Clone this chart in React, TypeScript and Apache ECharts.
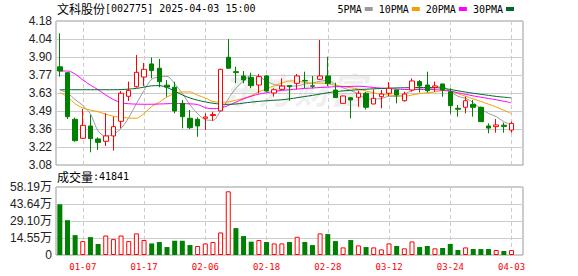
import { useEffect, useRef } from 'react';
import * as echarts from 'echarts';

const dates = [
  '01-02', '01-03', '01-06', '01-07', '01-08', '01-09', '01-10', '01-13', '01-14', '01-15',
  '01-16', '01-17', '01-20', '01-21', '01-22', '01-23', '01-24', '01-27', '02-05', '02-06',
  '02-07', '02-10', '02-11', '02-12', '02-13', '02-14', '02-17', '02-18', '02-19', '02-20',
  '02-21', '02-24', '02-25', '02-26', '02-27', '02-28', '03-03', '03-04', '03-05', '03-06',
  '03-07', '03-10', '03-11', '03-12', '03-13', '03-14', '03-17', '03-18', '03-19', '03-20',
  '03-21', '03-24', '03-25', '03-26', '03-27', '03-28', '03-31', '04-01', '04-02', '04-03',
];

const openP = [
  3.83, 3.785, 3.429, 3.284, 3.378, 3.279, 3.261, 3.302, 3.414, 3.605,
  3.678, 3.752, 3.852, 3.819, 3.69, 3.674, 3.551, 3.437, 3.429, 3.437,
  3.458, 3.493, 3.903, 3.793, 3.76, 3.75, 3.691, 3.76, 3.63, 3.658,
  3.686, 3.704, 3.726, 3.685, 3.735, 3.76, 3.653, 3.551, 3.594, 3.597,
  3.628, 3.546, 3.602, 3.628, 3.653, 3.571, 3.653, 3.717, 3.691, 3.673,
  3.699, 3.64, 3.513, 3.521, 3.543, 3.521, 3.378, 3.373, 3.384, 3.347,
];
const closeP = [
  3.798, 3.449, 3.266, 3.383, 3.281, 3.253, 3.302, 3.373, 3.628, 3.65,
  3.788, 3.811, 3.801, 3.716, 3.675, 3.493, 3.449, 3.365, 3.378, 3.447,
  3.465, 3.811, 3.819, 3.786, 3.73, 3.686, 3.755, 3.645, 3.655, 3.683,
  3.678, 3.76, 3.722, 3.682, 3.76, 3.704, 3.595, 3.607, 3.577, 3.628,
  3.521, 3.589, 3.622, 3.666, 3.615, 3.622, 3.722, 3.684, 3.648, 3.684,
  3.653, 3.533, 3.506, 3.571, 3.521, 3.411, 3.362, 3.386, 3.375, 3.398,
];
const lowP = [
  3.755, 3.431, 3.258, 3.279, 3.177, 3.195, 3.225, 3.19, 3.36, 3.569,
  3.671, 3.684, 3.742, 3.674, 3.602, 3.475, 3.36, 3.355, 3.296, 3.347,
  3.418, 3.49, 3.815, 3.704, 3.704, 3.666, 3.628, 3.64, 3.602, 3.653,
  3.57, 3.658, 3.666, 3.666, 3.729, 3.683, 3.593, 3.55, 3.437, 3.525,
  3.505, 3.545, 3.513, 3.607, 3.551, 3.564, 3.64, 3.633, 3.633, 3.64,
  3.602, 3.47, 3.449, 3.475, 3.449, 3.41, 3.322, 3.327, 3.327, 3.327,
];
const highP = [
  4.086, 3.79, 3.442, 3.508, 3.462, 3.291, 3.475, 3.449, 3.645, 3.717,
  3.92, 3.86, 3.902, 3.89, 3.729, 3.716, 3.577, 3.5, 3.444, 3.475,
  3.487, 3.815, 4.042, 3.831, 3.798, 3.785, 3.775, 3.767, 3.666, 3.742,
  3.69, 3.775, 3.793, 3.76, 4.035, 3.907, 3.709, 3.61, 3.6, 3.648,
  3.638, 3.658, 3.653, 3.714, 3.655, 3.64, 3.742, 3.729, 3.793, 3.717,
  3.7, 3.666, 3.538, 3.602, 3.577, 3.526, 3.398, 3.431, 3.404, 3.411,
];

const volumes = [
  434000, 298000, 170000, 119000, 153000, 94000, 167000, 136000, 167000, 119000,
  185000, 128000, 99000, 111000, 68000, 122000, 122000, 85000, 77000, 99000,
  111000, 193000, 545000, 230000, 162000, 114000, 128000, 111000, 99000, 99000,
  111000, 156000, 111000, 85000, 185000, 179000, 119000, 65000, 128000, 82000,
  68000, 65000, 48000, 99000, 77000, 57000, 116000, 68000, 77000, 57000,
  60000, 94000, 43000, 65000, 51000, 51000, 51000, 43000, 34000, 41841,
];

const ma5 = [
  3.653, 3.63, 3.58, 3.535, 3.47, 3.34, 3.3, 3.315, 3.36, 3.442,
  3.548, 3.65, 3.735, 3.753, 3.757, 3.7, 3.627, 3.54, 3.472, 3.426,
  3.421, 3.493, 3.584, 3.666, 3.722, 3.766, 3.755, 3.72, 3.694, 3.685,
  3.683, 3.684, 3.7, 3.705, 3.72, 3.726, 3.693, 3.67, 3.649, 3.622,
  3.586, 3.584, 3.587, 3.605, 3.603, 3.623, 3.649, 3.662, 3.658, 3.672,
  3.678, 3.64, 3.605, 3.589, 3.557, 3.508, 3.474, 3.45, 3.411, 3.386,
];
const ma10 = [
  3.635, 3.6, 3.548, 3.515, 3.5, 3.487, 3.468, 3.452, 3.445, 3.438,
  3.437, 3.474, 3.527, 3.56, 3.6, 3.624, 3.638, 3.638, 3.613, 3.592,
  3.565, 3.56, 3.562, 3.575, 3.59, 3.61, 3.64, 3.66, 3.685, 3.706,
  3.722, 3.72, 3.712, 3.705, 3.705, 3.702, 3.688, 3.68, 3.67, 3.66,
  3.645, 3.632, 3.62, 3.615, 3.608, 3.604, 3.615, 3.625, 3.632, 3.638,
  3.648, 3.643, 3.625, 3.605, 3.585, 3.565, 3.545, 3.523, 3.498, 3.472,
];
const ma20 = [
  3.798, 3.798, 3.775, 3.73, 3.69, 3.655, 3.615, 3.58, 3.555, 3.548,
  3.545, 3.544, 3.544, 3.546, 3.548, 3.55, 3.549, 3.547, 3.542, 3.518,
  3.51, 3.515, 3.535, 3.56, 3.585, 3.605, 3.622, 3.632, 3.642, 3.65,
  3.655, 3.66, 3.665, 3.668, 3.672, 3.675, 3.678, 3.68, 3.68, 3.682,
  3.678, 3.672, 3.667, 3.663, 3.66, 3.657, 3.656, 3.657, 3.658, 3.655,
  3.652, 3.645, 3.632, 3.62, 3.608, 3.598, 3.588, 3.578, 3.567, 3.555,
];
const ma30 = [
  3.655, 3.655, 3.655, 3.655, 3.655, 3.655, 3.655, 3.655, 3.656, 3.66,
  3.665, 3.675, 3.685, 3.686, 3.672, 3.645, 3.615, 3.592, 3.575, 3.562,
  3.552, 3.545, 3.543, 3.546, 3.553, 3.56, 3.566, 3.571, 3.575, 3.578,
  3.585, 3.594, 3.603, 3.612, 3.622, 3.632, 3.64, 3.646, 3.651, 3.656,
  3.659, 3.662, 3.665, 3.667, 3.669, 3.67, 3.671, 3.672, 3.672, 3.671,
  3.666, 3.657, 3.647, 3.637, 3.628, 3.62, 3.612, 3.604, 3.598, 3.593,
];

const xTickLabels = ['01-07', '01-17', '02-06', '02-18', '02-28', '03-12', '03-24', '04-03'];
const priceTickLabels = ['3.08', '3.22', '3.36', '3.49', '3.63', '3.77', '3.90', '4.04', '4.18'];
const volTickLabels = ['0', '14.55万', '29.10万', '43.64万', '58.19万'];

const PRICE_MIN = 3.08;
const PRICE_MAX = 4.18;
const PRICE_STEP = 0.1375;
const VOL_MAX = 581900;
const VOL_STEP = 145475;

const RED = '#ff0000';
const GREEN = '#008000';
const MONO = '"DejaVu Sans Mono", monospace';
const SANS = '"Liberation Sans", Arial, "Noto Sans CJK SC", sans-serif';
const CJK = '"Noto Sans CJK SC", sans-serif';

export default function App() {
  const ref = useRef<HTMLDivElement>(null);

  useEffect(() => {
    if (!ref.current) return;
    const chart = echarts.init(ref.current, null, { renderer: 'svg' });

    const cats = [...dates, ''];
    const showIdx = (_: number, v: string) => xTickLabels.includes(v);

    const candleData = dates.map((_, i) => [openP[i], closeP[i], lowP[i], highP[i]]);
    const volData = volumes.map((v, i) => {
      const up = i === 0 ? closeP[0] >= openP[0] : closeP[i] >= closeP[i - 1];
      return {
        value: v,
        itemStyle: up
          ? { color: '#ffffff', borderColor: RED, borderWidth: 1 }
          : { color: GREEN, borderColor: GREEN, borderWidth: 0 },
      };
    });

    const maSeries = [
      { name: '5PMA', data: ma5, color: '#9a9a9a' },
      { name: '10PMA', data: ma10, color: '#f5a000' },
      { name: '20PMA', data: ma20, color: '#ff00ff' },
      { name: '30PMA', data: ma30, color: '#006a2c' },
    ].map((s) => ({
      name: s.name,
      type: 'line',
      xAxisIndex: 0,
      yAxisIndex: 0,
      data: s.data,
      color: s.color,
      showSymbol: false,
      symbol: 'none',
      smooth: 0.3,
      lineStyle: { color: s.color, width: 1 },
      itemStyle: { color: s.color },
      z: 3,
    }));

    const xAxisCommon = {
      type: 'category',
      data: cats,
      boundaryGap: true,
      axisLine: { show: false },
      axisTick: { show: false },
      splitLine: {
        show: true,
        interval: showIdx,
        alignWithLabel: true,
        lineStyle: { color: '#cccccc', width: 1, type: [4, 3] },
      },
    };

    const richTitle = {
      c: { fontFamily: CJK, fontSize: 12, fontWeight: 'normal', color: '#000' },
      a: { fontFamily: MONO, fontSize: 10, fontWeight: 'normal', color: '#000' },
    };

    const option: any = {
      animation: false,
      backgroundColor: '#ffffff',
      title: [
        {
          text: '{c|文科股份}{a|[002775] 2025-04-03 15:00}',
          left: 57,
          top: 2,
          padding: 0,
          textStyle: { fontWeight: 'normal', rich: richTitle },
        },
        {
          text: `{c|成交量}{a|:${volumes[volumes.length - 1]}}`,
          left: 57,
          top: 170,
          padding: 0,
          textStyle: { fontWeight: 'normal', rich: richTitle },
        },
      ],
      legend: {
        data: ['5PMA', '10PMA', '20PMA', '30PMA'],
        right: 64,
        top: 4,
        padding: 0,
        align: 'right',
        icon: 'rect',
        itemWidth: 8,
        itemHeight: 4,
        itemGap: 6,
        selectedMode: false,
        textStyle: { fontFamily: MONO, fontSize: 10, color: '#000', padding: [0, -2, 0, 0] },
      },
      graphic: [
        {
          type: 'text',
          left: 222,
          top: 70,
          z: -10,
          silent: true,
          style: {
            text: '东方财富',
            font: 'italic bold 36px "Noto Sans CJK SC"',
            fill: 'rgba(0,0,0,0.07)',
          },
        },
      ],
      grid: [
        { left: 56, right: 55, top: 21, height: 144, show: true, borderColor: '#999999', borderWidth: 1, backgroundColor: 'transparent' },
        { left: 56, right: 55, top: 187, height: 68, show: true, borderColor: '#999999', borderWidth: 1, backgroundColor: 'transparent' },
      ],
      xAxis: [
        { ...xAxisCommon, gridIndex: 0, axisLabel: { show: false } },
        {
          ...xAxisCommon,
          gridIndex: 1,
          axisLabel: {
            show: true,
            interval: showIdx,
            margin: 7,
            color: RED,
            fontFamily: MONO,
            fontSize: 9,
          },
        },
      ],
      yAxis: [
        {
          type: 'value',
          gridIndex: 0,
          min: PRICE_MIN,
          max: PRICE_MAX,
          interval: PRICE_STEP,
          axisLine: { show: false },
          axisTick: { show: false },
          axisLabel: {
            margin: 4,
            color: '#222',
            fontFamily: SANS,
            fontSize: 12,
            formatter: (v: number) => priceTickLabels[Math.round((v - PRICE_MIN) / PRICE_STEP)] ?? '',
          },
          splitLine: { lineStyle: { color: '#cccccc', width: 1 } },
        },
        {
          type: 'value',
          gridIndex: 1,
          min: 0,
          max: VOL_MAX,
          interval: VOL_STEP,
          axisLine: { show: false },
          axisTick: { show: false },
          axisLabel: {
            margin: 4,
            color: '#222',
            fontFamily: SANS,
            fontSize: 12,
            formatter: (v: number) => volTickLabels[Math.round(v / VOL_STEP)] ?? '',
          },
          splitLine: { lineStyle: { color: '#cccccc', width: 1 } },
        },
      ],
      series: [
        {
          name: 'K',
          type: 'candlestick',
          xAxisIndex: 0,
          yAxisIndex: 0,
          data: candleData,
          barWidth: 5,
          itemStyle: {
            color: '#ffffff',
            color0: GREEN,
            borderColor: RED,
            borderColor0: GREEN,
            borderWidth: 1,
          },
          z: 4,
        },
        ...maSeries,
        {
          name: 'VOL',
          type: 'bar',
          xAxisIndex: 1,
          yAxisIndex: 1,
          data: volData,
          barWidth: 5,
        },
      ],
    };

    chart.setOption(option);
    return () => chart.dispose();
  }, []);

  return (
    <div
      ref={ref}
      style={{ position: 'fixed', left: 0, top: 0, width: 578, height: 276, background: '#fff' }}
    />
  );
}
